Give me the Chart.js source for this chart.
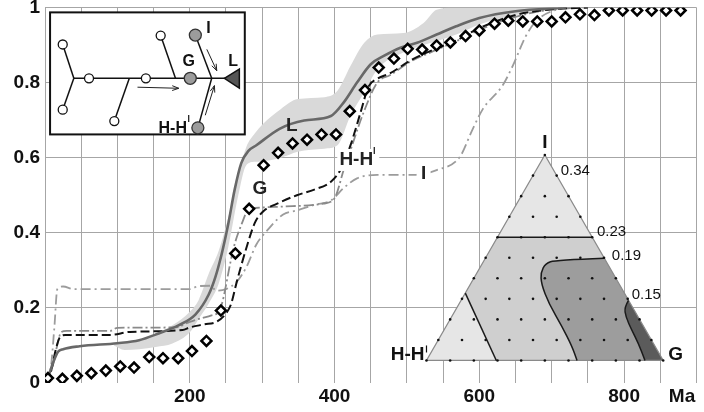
<!DOCTYPE html>
<html>
<head>
<meta charset="utf-8">
<script src="https://cdn.jsdelivr.net/npm/chart.js@4.4.1/dist/chart.umd.min.js"></script>
<style>
  html, body { margin: 0; padding: 0; background: #fff; }
  #wrap { width: 704px; height: 412px; }
</style>
</head>
<body>
<div id="wrap"><canvas id="chart" width="704" height="412"></canvas></div>
<script>
// ---- data (x in Ma, y as fraction) ----
const diamondX = [4,24,44,64,84,104,123,144,163,184,203,223,243,263,282,302,322,342,362,382,402,421,442,461,482,501,521,541,560,581,600,621,640,660,680,700,719,739,759,779,798,818,838,858,878];
const diamondY = [0.013,0.011,0.019,0.026,0.033,0.044,0.041,0.069,0.066,0.066,0.085,0.112,0.193,0.345,0.464,0.58,0.613,0.638,0.648,0.662,0.662,0.724,0.78,0.84,0.864,0.89,0.888,0.899,0.907,0.924,0.939,0.957,0.965,0.963,0.963,0.963,0.974,0.982,0.98,0.992,0.992,0.992,0.992,0.992,0.992];

const lX = [0,5,11,18,25,48,100,130,157,185,208,226,235,244,253,262,271,281,292,324,358,395,413,431,450,468,491,514,541,568,600,650,720];
const lY = [0,0.02,0.053,0.083,0.09,0.098,0.106,0.114,0.132,0.154,0.183,0.235,0.28,0.343,0.422,0.515,0.585,0.618,0.633,0.677,0.699,0.711,0.748,0.80,0.849,0.871,0.893,0.906,0.928,0.95,0.972,0.99,1.0];

const gX = [0,10,18,22,30,90,100,180,200,215,230,240,245,249,256,262,272,281,290,330,385,400,413,422,440,459,477,504,532,568,600,650,700,750];
const gY = [0,0.04,0.11,0.135,0.139,0.139,0.147,0.148,0.163,0.172,0.18,0.19,0.215,0.25,0.32,0.37,0.425,0.462,0.466,0.47,0.478,0.492,0.57,0.62,0.72,0.80,0.82,0.855,0.88,0.91,0.94,0.975,0.995,1.0];

const hX = [0,8,15,20,28,90,117,190,200,220,237,250,257,265,279,290,302,320,348,372,395,408,422,436,447,459,477,504,532,568,600,650,700,750];
const hY = [0,0.03,0.09,0.12,0.128,0.128,0.136,0.141,0.148,0.156,0.163,0.185,0.21,0.27,0.365,0.427,0.458,0.477,0.5,0.515,0.536,0.567,0.633,0.721,0.79,0.81,0.825,0.858,0.884,0.912,0.945,0.98,0.995,1.0];

const iX = [0,8,13,17,25,40,200,212,228,237,250,265,278,292,306,329,349,373,395,413,431,459,509,541,573,591,605,632,646,664,678,700,730];
const iY = [0,0.04,0.15,0.25,0.257,0.25,0.25,0.258,0.259,0.246,0.25,0.27,0.308,0.369,0.404,0.449,0.46,0.475,0.486,0.52,0.545,0.554,0.554,0.567,0.602,0.677,0.73,0.792,0.844,0.923,0.963,0.99,1.0];

// spread band round L
const bandX  = [95,110,130,153,176,200,212,226,240,253,267,278,290,300,326,349,386,404,422,441,459,495,523,541,568,600,650,700,750];
const bandHi = [0.104,0.108,0.114,0.132,0.154,0.19,0.22,0.29,0.352,0.44,0.554,0.628,0.665,0.688,0.73,0.756,0.761,0.778,0.844,0.906,0.928,0.932,0.959,0.994,1,1,1,1,1];
const bandLo = [0.1,0.088,0.09,0.096,0.105,0.135,0.17,0.211,0.265,0.36,0.5,0.58,0.589,0.59,0.6,0.616,0.624,0.633,0.712,0.774,0.835,0.88,0.9,0.91,0.928,0.955,0.98,0.993,1];

const xLabels = { 200: '200', 400: '400', 600: '600', 800: '800' };

// ternary contour values
const ternaryLevels = ['0.34', '0.23', '0.19', '0.15'];

function pts(xs, ys) {
    return xs.map((x, i) => ({ x: x, y: ys[i] }));
}

const FONT = '"Liberation Sans", Arial, sans-serif';

// ---- inset drawings (placed in data units, drawn through the scales) ----
const treeBox = { x0: 7, x1: 276, y0: 0.987, y1: 0.662 };
const triBox = { x0: 527, x1: 854, y0: 0.06, y1: 0.607 };

function drawArrow(ctx, a, b) {
    const ang = Math.atan2(b[1] - a[1], b[0] - a[0]);
    const h = 7;
    ctx.beginPath();
    ctx.moveTo(a[0], a[1]);
    ctx.lineTo(b[0], b[1]);
    ctx.moveTo(b[0] - h * Math.cos(ang - 0.35), b[1] - h * Math.sin(ang - 0.35));
    ctx.lineTo(b[0], b[1]);
    ctx.lineTo(b[0] - h * Math.cos(ang + 0.35), b[1] - h * Math.sin(ang + 0.35));
    ctx.stroke();
}

function smoothTo(ctx, p, start) {
    if (start) ctx.moveTo(p[0][0], p[0][1]); else ctx.lineTo(p[0][0], p[0][1]);
    for (let i = 1; i < p.length - 1; i++) {
        const mx = (p[i][0] + p[i + 1][0]) / 2, my = (p[i][1] + p[i + 1][1]) / 2;
        ctx.quadraticCurveTo(p[i][0], p[i][1], mx, my);
    }
    const last = p[p.length - 1];
    ctx.lineTo(last[0], last[1]);
}

function drawPrime(ctx, x, y) {
    ctx.save();
    ctx.strokeStyle = '#111';
    ctx.lineWidth = 1.2;
    ctx.beginPath();
    ctx.moveTo(x, y);
    ctx.lineTo(x, y + 7);
    ctx.stroke();
    ctx.restore();
}

function drawTree(ctx, P) {
    const T = (u, v) => P(treeBox.x0 + u * (treeBox.x1 - treeBox.x0), treeBox.y0 + v * (treeBox.y1 - treeBox.y0));
    const a = T(0, 0), b = T(1, 1);
    ctx.fillStyle = '#fff';
    ctx.fillRect(a[0], a[1], b[0] - a[0], b[1] - a[1]);
    ctx.strokeStyle = '#111';
    ctx.lineWidth = 2;
    ctx.strokeRect(a[0], a[1], b[0] - a[0], b[1] - a[1]);

    const segs = [
        [[0.122, 0.54], [0.9, 0.54]],
        [[0.122, 0.54], [0.065, 0.263]],
        [[0.122, 0.54], [0.065, 0.797]],
        [[0.407, 0.54], [0.33, 0.891]],
        [[0.644, 0.54], [0.568, 0.19]],
        [[0.83, 0.54], [0.746, 0.186]],
        [[0.83, 0.54], [0.759, 0.946]]
    ];
    ctx.lineWidth = 1.5;
    segs.forEach(s => {
        const p = T(...s[0]), q = T(...s[1]);
        ctx.beginPath(); ctx.moveTo(p[0], p[1]); ctx.lineTo(q[0], q[1]); ctx.stroke();
    });

    const open = [[0.065, 0.263], [0.065, 0.797], [0.2, 0.54], [0.492, 0.54], [0.33, 0.891], [0.568, 0.19]];
    open.forEach(c => {
        const p = T(...c);
        ctx.beginPath(); ctx.arc(p[0], p[1], 4.5, 0, Math.PI * 2);
        ctx.fillStyle = '#fff'; ctx.fill(); ctx.lineWidth = 1.3; ctx.strokeStyle = '#111'; ctx.stroke();
    });
    const grey = [[0.746, 0.186], [0.72, 0.54], [0.759, 0.946]];
    grey.forEach(c => {
        const p = T(...c);
        ctx.beginPath(); ctx.arc(p[0], p[1], 6, 0, Math.PI * 2);
        ctx.fillStyle = '#9c9c9c'; ctx.fill(); ctx.lineWidth = 1.3; ctx.strokeStyle = '#333'; ctx.stroke();
    });

    // outlet triangle
    const t1 = T(0.895, 0.54), t2 = T(0.972, 0.465), t3 = T(0.972, 0.62);
    ctx.beginPath(); ctx.moveTo(t1[0], t1[1]); ctx.lineTo(t2[0], t2[1]); ctx.lineTo(t3[0], t3[1]); ctx.closePath();
    ctx.fillStyle = '#555'; ctx.fill(); ctx.strokeStyle = '#111'; ctx.lineWidth = 1.5; ctx.stroke();

    ctx.lineWidth = 1;
    ctx.strokeStyle = '#222';
    drawArrow(ctx, T(0.449, 0.613), T(0.661, 0.622));
    drawArrow(ctx, T(0.805, 0.303), T(0.856, 0.478));
    drawArrow(ctx, T(0.797, 0.843), T(0.844, 0.6));

    ctx.fillStyle = '#111';
    ctx.font = 'bold 16px ' + FONT;
    ctx.textBaseline = 'middle';
    ctx.textAlign = 'center';
    let p = T(0.813, 0.13); ctx.fillText('I', p[0], p[1]);
    p = T(0.712, 0.4); ctx.fillText('G', p[0], p[1]);
    p = T(0.94, 0.4); ctx.fillText('L', p[0], p[1]);
    ctx.textAlign = 'right';
    p = T(0.703, 0.95); ctx.fillText('H-H', p[0], p[1]);
    p = T(0.712, 0.84); drawPrime(ctx, p[0], p[1]);
}

function drawTernary(ctx, P) {
    const R = (u, v) => P(triBox.x0 + u * (triBox.x1 - triBox.x0), triBox.y0 + v * (triBox.y1 - triBox.y0));
    const path = list => list.map(q => R(q[0], q[1]));
    const poly = (list, fill) => {
        const p = path(list);
        ctx.beginPath(); ctx.moveTo(p[0][0], p[0][1]);
        p.slice(1).forEach(q => ctx.lineTo(q[0], q[1]));
        ctx.closePath(); ctx.fillStyle = fill; ctx.fill();
    };
    const curve19 = [[0.751, 0.498], [0.545, 0.489], [0.503, 0.473], [0.483, 0.429], [0.485, 0.373], [0.517, 0.277], [0.573, 0.164], [0.615, 0.068], [0.636, 0]];
    const curve15 = [[0.8535, 0.293], [0.836, 0.26], [0.842, 0.212], [0.867, 0.148], [0.895, 0.084], [0.923, 0]];

    poly([[0, 0], [1, 0], [0.5, 1]], '#e6e6e6');
    poly([[0.3, 0.6], [0.7, 0.6], [1, 0], [0.295, 0], [0.164, 0.328]], '#cfcfcf');

    let c = path(curve19);
    ctx.beginPath(); smoothTo(ctx, c, true);
    let e = R(1, 0); ctx.lineTo(e[0], e[1]); ctx.closePath();
    ctx.fillStyle = '#9d9d9d'; ctx.fill();

    let d = path(curve15);
    ctx.beginPath(); smoothTo(ctx, d, true);
    ctx.lineTo(e[0], e[1]); ctx.closePath();
    ctx.fillStyle = '#5b5b5b'; ctx.fill();

    // outline
    const o = path([[0, 0], [1, 0], [0.5, 1]]);
    ctx.beginPath(); ctx.moveTo(o[0][0], o[0][1]); ctx.lineTo(o[1][0], o[1][1]); ctx.lineTo(o[2][0], o[2][1]); ctx.closePath();
    ctx.strokeStyle = '#8a8a8a'; ctx.lineWidth = 1.2; ctx.stroke();

    // contour borders
    ctx.strokeStyle = '#1a1a1a';
    ctx.lineWidth = 1.5;
    let h1 = R(0.3, 0.6), h2 = R(0.7, 0.6);
    ctx.beginPath(); ctx.moveTo(h1[0], h1[1]); ctx.lineTo(h2[0], h2[1]); ctx.stroke();
    h1 = R(0.164, 0.328); h2 = R(0.295, 0);
    ctx.beginPath(); ctx.moveTo(h1[0], h1[1]); ctx.lineTo(h2[0], h2[1]); ctx.stroke();
    ctx.beginPath(); smoothTo(ctx, c, true); ctx.stroke();
    ctx.beginPath(); smoothTo(ctx, d, true); ctx.stroke();

    // lattice dots
    ctx.fillStyle = '#111';
    for (let r = 0; r <= 10; r++) {
        for (let k = 0; k <= 10 - r; k++) {
            const q = R(r / 20 + k / 10, r / 10);
            ctx.beginPath(); ctx.arc(q[0], q[1], 1.3, 0, Math.PI * 2); ctx.fill();
        }
    }

    // contour labels
    ctx.font = '15px ' + FONT;
    ctx.textAlign = 'left';
    ctx.textBaseline = 'middle';
    const spots = [[0.567, 0.923], [0.72, 0.625], [0.783, 0.51], [0.867, 0.317]];
    spots.forEach((s, i) => {
        const q = R(s[0], s[1]);
        ctx.fillText(ternaryLevels[i], q[0], q[1]);
    });

    // vertex labels
    ctx.font = 'bold 19px ' + FONT;
    let q = R(0.5, 1);
    ctx.textAlign = 'center';
    ctx.fillText('I', q[0], q[1] - 12);
    q = R(1, 0);
    ctx.textAlign = 'left';
    ctx.fillText('G', q[0] + 5, q[1] - 6);
    q = R(0, 0);
    ctx.textAlign = 'right';
    ctx.fillText('H-H', q[0] - 2, q[1] - 6);
    drawPrime(ctx, q[0], q[1] - 15);
}

const insetPlugin = {
    id: 'insets',
    beforeDatasetsDraw(chart) {
        const xs = chart.scales.x, ys = chart.scales.y;
        const P = (x, y) => [xs.getPixelForValue(x), ys.getPixelForValue(y)];
        const ctx = chart.ctx;
        ctx.save();
        drawTree(ctx, P);
        drawTernary(ctx, P);
        ctx.restore();
    },
    afterDatasetsDraw(chart) {
        const xs = chart.scales.x, ys = chart.scales.y;
        const P = (x, y) => [xs.getPixelForValue(x), ys.getPixelForValue(y)];
        const ctx = chart.ctx;
        ctx.save();
        ctx.font = 'bold 19px ' + FONT;
        ctx.textAlign = 'center';
        ctx.textBaseline = 'middle';

        // labels with a white patch behind
        let p = P(430, 0.594);
        ctx.fillStyle = '#fff';
        ctx.fillRect(p[0] - 19, p[1] - 11, 42, 22);
        p = P(523, 0.556);
        ctx.fillRect(p[0] - 7, p[1] - 11, 14, 22);

        ctx.fillStyle = '#222';
        p = P(341, 0.684); ctx.fillText('L', p[0], p[1]);
        p = P(297, 0.517); ctx.fillText('G', p[0], p[1]);
        p = P(523, 0.556); ctx.fillText('I', p[0], p[1]);
        p = P(430, 0.594); ctx.fillText('H-H', p[0], p[1]);
        drawPrime(ctx, p[0] + 18, p[1] - 13);

        // axis unit
        ctx.fillStyle = '#111';
        p = P(880, 0);
        ctx.fillText('Ma', p[0], xs.top + 14);
        ctx.restore();
    }
};

const ctx = document.getElementById('chart').getContext('2d');
const chart = new Chart(ctx, {
    type: 'line',
    data: {
        datasets: [
            {
                label: 'data',
                data: pts(diamondX, diamondY),
                showLine: false,
                pointStyle: 'rectRot',
                pointRadius: 5,
                pointBorderWidth: 2.5,
                pointBorderColor: '#000',
                pointBackgroundColor: '#fff'
            },
            {
                label: 'L',
                data: pts(lX, lY),
                borderColor: '#686868',
                borderWidth: 2.6,
                cubicInterpolationMode: 'monotone'
            },
            {
                label: "H-H'",
                data: pts(hX, hY),
                borderColor: '#111',
                borderWidth: 2,
                borderDash: [9, 4],
                cubicInterpolationMode: 'monotone'
            },
            {
                label: 'G',
                data: pts(gX, gY),
                borderColor: '#8a8a8a',
                borderWidth: 1.8,
                borderDash: [10, 3, 2, 3],
                cubicInterpolationMode: 'monotone'
            },
            {
                label: 'I',
                data: pts(iX, iY),
                borderColor: '#9c9c9c',
                borderWidth: 1.8,
                borderDash: [10, 4, 2, 4],
                cubicInterpolationMode: 'monotone'
            },
            {
                label: 'band high',
                data: pts(bandX, bandHi),
                borderWidth: 0,
                borderColor: 'rgba(0,0,0,0)',
                backgroundColor: '#d9d9d9',
                fill: '+1',
                cubicInterpolationMode: 'monotone'
            },
            {
                label: 'band low',
                data: pts(bandX, bandLo),
                borderWidth: 0,
                borderColor: 'rgba(0,0,0,0)',
                cubicInterpolationMode: 'monotone'
            }
        ]
    },
    options: {
        responsive: false,
        animation: false,
        devicePixelRatio: 1,
        layout: { padding: { top: 4, right: 2, left: 0, bottom: 0 } },
        elements: { point: { radius: 0 }, line: { fill: false } },
        plugins: {
            legend: { display: false },
            tooltip: { enabled: false }
        },
        events: [],
        scales: {
            x: {
                type: 'linear',
                min: 0,
                max: 900,
                border: { display: false },
                grid: { color: '#a6a6a6', lineWidth: 1, drawTicks: false },
                ticks: {
                    stepSize: 50,
                    autoSkip: false,
                    maxRotation: 0,
                    padding: 2,
                    color: '#111',
                    font: { family: FONT, size: 19, weight: 'bold' },
                    callback: v => xLabels[v] || ''
                },
                afterFit: s => { s.height = 29; s.paddingLeft = 0; s.paddingRight = 0; }
            },
            y: {
                min: 0,
                max: 1,
                border: { display: false },
                grid: {
                    drawTicks: false,
                    lineWidth: 1,
                    color: c => (c.tick && c.tick.value === 0) ? 'rgba(0,0,0,0)' : '#a6a6a6'
                },
                ticks: {
                    stepSize: 0.2,
                    padding: 5,
                    color: '#111',
                    font: { family: FONT, size: 19, weight: 'bold' },
                    callback: v => (v === 0 || v === 1) ? String(v) : v.toFixed(1)
                },
                afterFit: s => { s.width = 45; s.paddingTop = 0; s.paddingBottom = 0; }
            }
        }
    },
    plugins: [insetPlugin]
});
</script>
</body>
</html>
